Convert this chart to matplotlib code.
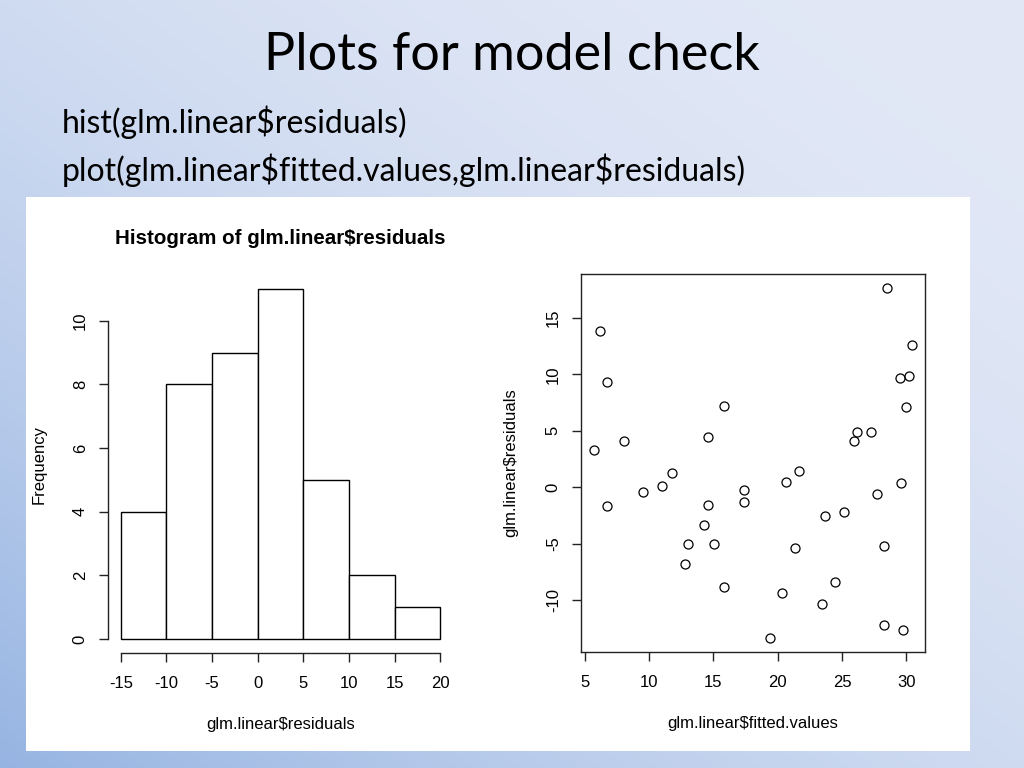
import numpy as np
import matplotlib.pyplot as plt

plt.rcParams['text.parse_math'] = False
plt.rcParams['axes.unicode_minus'] = False

# fitted values and residuals
fitted = [6.22, 6.71, 15.81, 14.57, 8.02, 5.70, 11.78, 11.02, 9.53, 17.36,
          17.36, 6.71, 14.57, 14.30, 13.06, 15.03, 12.83, 15.81,
          28.47, 30.46, 30.22, 29.47, 29.96, 26.14, 27.25, 25.91, 21.62,
          20.64, 29.59, 27.71, 25.16, 23.68, 21.36, 28.23, 24.43, 20.35,
          23.43, 28.23, 29.71, 19.37]
residuals = [13.80, 9.36, 7.23, 4.48, 4.09, 3.29, 1.24, 0.08, -0.47, -0.29,
             -1.33, -1.71, -1.54, -3.34, -5.03, -5.03, -6.80, -8.85,
             17.65, 12.56, 9.89, 9.63, 7.14, 4.92, 4.92, 4.09, 1.42,
             0.44, 0.33, -0.65, -2.16, -2.60, -5.36, -5.18, -8.40, -9.38,
             -10.35, -12.26, -12.67, -13.37]
bin_edges = [-15, -10, -5, 0, 5, 10, 15, 20]
hist_yticks = [0, 2, 4, 6, 8, 10]
scatter_xticks = [5, 10, 15, 20, 25, 30]
scatter_yticks = [-10, -5, 0, 5, 10, 15]

fig = plt.figure(figsize=(10.24, 7.68), dpi=100)

# slide background gradient (dark bottom-left -> light top-right)
bg = fig.add_axes([0, 0, 1, 1], zorder=-10)
u = np.linspace(0, 1, 256)
U, V = np.meshgrid(u, u[::-1])
t = (U + V) / 2
w = (1 - t) ** 2
light = np.array([226, 232, 246]) / 255
dark = np.array([150, 180, 226]) / 255
img = light[None, None, :] + (dark - light)[None, None, :] * w[..., None]
bg.imshow(img, extent=[0, 1, 0, 1], aspect='auto', origin='upper')
bg.set_xlim(0, 1)
bg.set_ylim(0, 1)
bg.axis('off')

# white panel holding the R output
bg.add_patch(plt.Rectangle((26 / 1024, 1 - 751 / 768), 944 / 1024, 554 / 768,
                           facecolor='white', edgecolor='none'))

fig.text(0.5, 1 - 55 / 768, "Plots for model check", ha='center', va='center',
         fontsize=37.5, family='Lato')
fig.text(62 / 1024, 1 - 122 / 768, "hist(glm.linear$residuals)", ha='left',
         va='center', fontsize=23, family='Lato')
fig.text(62 / 1024, 1 - 170 / 768,
         "plot(glm.linear$fitted.values,glm.linear$residuals)", ha='left',
         va='center', fontsize=23, family='Lato')

rfont = 'Liberation Sans'

# histogram
ax1 = fig.add_axes([108 / 1024, 1 - 653 / 768, 345 / 1024, 378 / 768])
ax1.hist(residuals, bins=bin_edges, facecolor='white', edgecolor='black',
         linewidth=1.0)
ax1.use_sticky_edges = False
ax1.margins(0.04)
ax1.set_facecolor('none')
for s in ['top', 'right']:
    ax1.spines[s].set_visible(False)
ax1.spines['left'].set_bounds(0, 10)
ax1.spines['bottom'].set_bounds(-15, 20)
ax1.set_xticks(bin_edges)
ax1.set_yticks(hist_yticks)
ax1.set_title("Histogram of glm.linear$residuals", fontsize=14.8,
              fontweight='bold', family=rfont, pad=22)
ax1.set_xlabel("glm.linear$residuals", fontsize=12, family=rfont, labelpad=19)
ax1.set_ylabel("Frequency", fontsize=12, family=rfont, labelpad=19)

# scatter of residuals vs fitted
ax2 = fig.add_axes([581 / 1024, 1 - 652 / 768, 344 / 1024, 378 / 768])
ax2.plot(fitted, residuals, 'o', markerfacecolor='none',
         markeredgecolor='black', markersize=6.5, markeredgewidth=0.9)
ax2.margins(0.04)
ax2.set_facecolor('none')
ax2.set_xticks(scatter_xticks)
ax2.set_yticks(scatter_yticks)
ax2.set_xlabel("glm.linear$fitted.values", fontsize=12, family=rfont,
               labelpad=19)
ax2.set_ylabel("glm.linear$residuals", fontsize=12, family=rfont, labelpad=20)

for ax in (ax1, ax2):
    for s in ax.spines.values():
        s.set_linewidth(1.0)
        s.set_color('#222222')
    ax.tick_params(direction='out', length=6.5, width=1.0, color='#222222',
                   pad=8, labelsize=12)
    ax.tick_params(axis='x', pad=10)
    ax.tick_params(axis='y', labelrotation=90)
    for lab in ax.get_yticklabels():
        lab.set_family(rfont)
        lab.set_va('center')
    for lab in ax.get_xticklabels():
        lab.set_family(rfont)

fig.savefig('out.png', dpi=100)
